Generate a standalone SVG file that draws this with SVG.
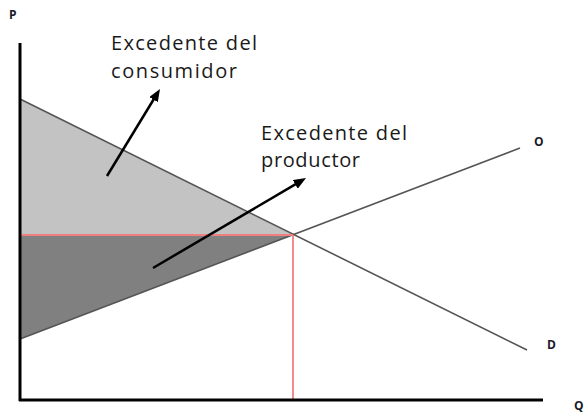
<svg xmlns="http://www.w3.org/2000/svg" width="588" height="412" viewBox="0 0 588 412">
<style>
.lbl{font-family:"Open Sans","Noto Sans",sans-serif;font-size:20px;fill:#1a1a1a}
.ax{font-family:"Open Sans","Noto Sans",sans-serif;font-size:12px;font-weight:bold;fill:#1a1a2a}
.curve{stroke:#555;stroke-width:1.6;fill:none}
.red{stroke:#f08080;stroke-width:1.8;fill:none}
.arrow{stroke:#000;stroke-width:2.5;fill:none;marker-end:url(#ah)}
</style>
<defs>
<marker id="ah" markerWidth="5" markerHeight="4" refX="1" refY="2" orient="auto" markerUnits="strokeWidth">
<path d="M0,0 L5,2 L0,4 z" fill="#000"/>
</marker>
</defs>
<rect width="588" height="412" fill="#fff"/>
<g id="areas">
<polygon points="20,99 293,235 20,235" fill="#c3c3c3"/>
<polygon points="20,235 293,235 20,339" fill="#808080"/>
</g>
<g id="curves">
<line class="curve" x1="20" y1="99" x2="527" y2="350"/>
<line class="curve" x1="20" y1="339" x2="520" y2="148"/>
<line class="red" x1="20" y1="235" x2="293" y2="235"/>
<line class="red" x1="293" y1="235" x2="293" y2="400"/>
</g>
<g id="axes">
<line x1="20" y1="43" x2="20" y2="401" stroke="#000" stroke-width="3"/>
<line x1="19" y1="400" x2="543" y2="400" stroke="#000" stroke-width="3"/>
<text class="ax" x="9" y="19">P</text>
<text class="ax" x="534" y="146">O</text>
<text class="ax" x="547" y="349">D</text>
<text class="ax" x="574" y="410">Q</text>
</g>
<g id="connectors">
<line class="arrow" x1="107" y1="176" x2="154.8" y2="97.5"/>
<line class="arrow" x1="153" y1="268" x2="297.4" y2="183.1"/>
</g>
<g id="label-consumidor">
<text class="lbl" x="111" y="50" textLength="146" lengthAdjust="spacing">Excedente del</text>
<text class="lbl" x="111" y="78" textLength="126" lengthAdjust="spacing">consumidor</text>
</g>
<g id="label-productor">
<text class="lbl" x="261" y="140" textLength="146" lengthAdjust="spacing">Excedente del</text>
<text class="lbl" x="261" y="167" textLength="99" lengthAdjust="spacing">productor</text>
</g>
</svg>
